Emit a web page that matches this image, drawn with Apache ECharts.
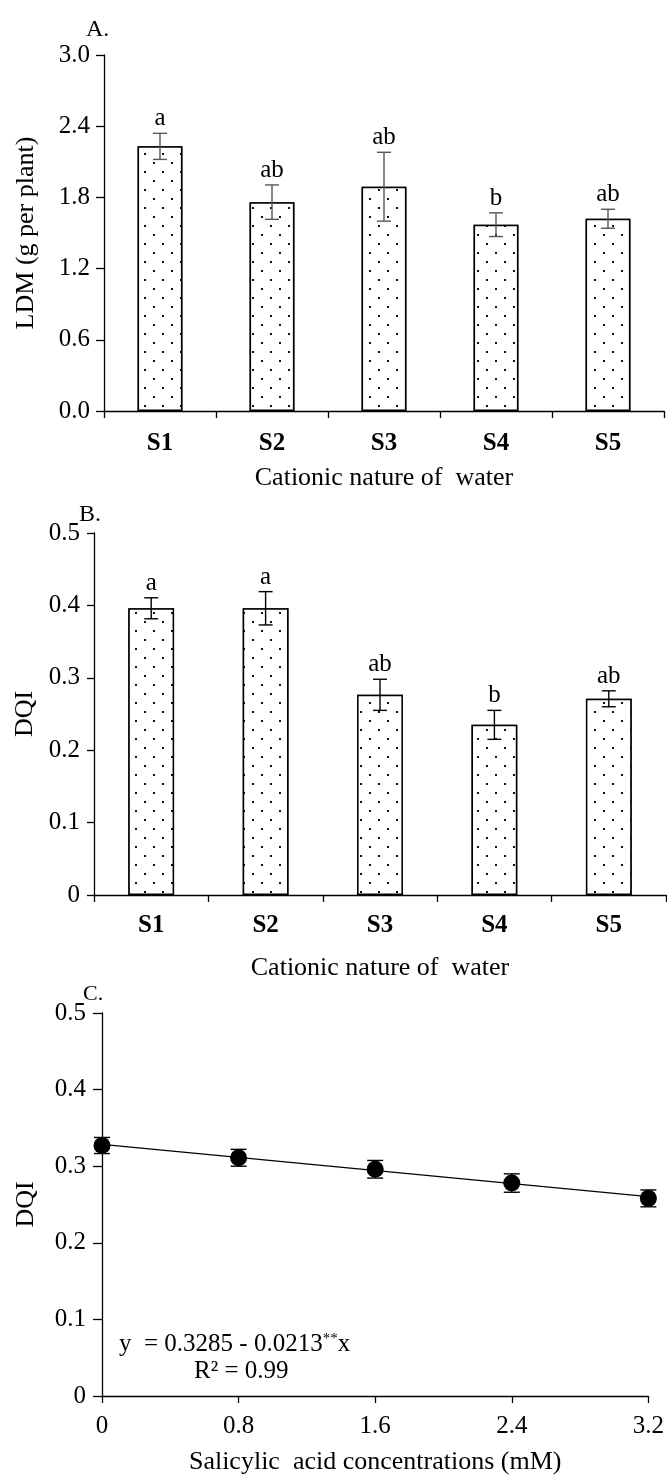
<!DOCTYPE html>
<html>
<head>
<meta charset="utf-8">
<script src="https://cdn.jsdelivr.net/npm/echarts@6/dist/echarts.min.js"></script>
<style>
html,body{margin:0;padding:0;background:#fff;}
#chart{width:667px;height:1477px;}
</style>
</head>
<body>
<div id="chart"></div>
<script>
// ---- data ----
const categories = ['S1', 'S2', 'S3', 'S4', 'S5'];
const ldmMean = [2.23, 1.76, 1.89, 1.57, 1.62];
const ldmErr = [0.11, 0.145, 0.29, 0.10, 0.08];
const ldmLetters = ['a', 'ab', 'ab', 'b', 'ab'];
const dqiMean = [0.396, 0.396, 0.2765, 0.235, 0.271];
const dqiErr = [0.0145, 0.023, 0.0215, 0.02, 0.011];
const dqiLetters = ['a', 'a', 'ab', 'b', 'ab'];
const saConc = [0, 0.8, 1.6, 2.4, 3.2];
const saDqi = [0.327, 0.311, 0.296, 0.278, 0.258];
const saErr = [0.0105, 0.011, 0.0115, 0.012, 0.011];
const fitX = [0, 3.2];
const fitY = [0.3285, 0.2603];
const xTitleAB = 'Cationic nature of  water';
const xTitleC = 'Salicylic  acid concentrations (mM)';
const yTitleA = 'LDM (g per plant)';
const yTitleBC = 'DQI';
const eqText = 'y  = 0.3285 - 0.0213';
const r2Text = 'R\u00B2 = 0.99';

const FONT = '"Liberation Serif", "Times New Roman", serif';
const FS = 25;

const decal = {
  symbol: 'rect', symbolSize: 1, symbolKeepAspect: false,
  color: '#111', backgroundColor: '#fff',
  dashArrayX: [[2, 15.5], [0, 8.75, 2, 6.75]],
  dashArrayY: [2, 7]
};

function errRenderer(letters, color, halfCap, withText) {
  return function (params, api) {
    const x = api.value(0), lo = api.value(1), hi = api.value(2);
    const pLo = api.coord([x, lo]);
    const pHi = api.coord([x, hi]);
    const st = { stroke: color, lineWidth: 1.4 };
    const children = [
      { type: 'line', shape: { x1: pHi[0], y1: pHi[1], x2: pLo[0], y2: pLo[1] }, style: st },
      { type: 'line', shape: { x1: pHi[0] - halfCap, y1: pHi[1], x2: pHi[0] + halfCap, y2: pHi[1] }, style: st },
      { type: 'line', shape: { x1: pLo[0] - halfCap, y1: pLo[1], x2: pLo[0] + halfCap, y2: pLo[1] }, style: st }
    ];
    if (withText) {
      children.push({
        type: 'text',
        style: {
          text: letters[params.dataIndex], x: pHi[0], y: pHi[1] - 2,
          align: 'center', verticalAlign: 'bottom',
          font: FS + 'px ' + FONT, fill: '#000'
        }
      });
    }
    return { type: 'group', children: children };
  };
}

const axisLineStyle = { show: true, lineStyle: { color: '#000', width: 1.3 } };
const axisTickStyle = { show: true, length: 8, lineStyle: { color: '#000', width: 1.3 } };
const labelStyle = { color: '#000', fontFamily: FONT, fontSize: FS };
const nameStyle = { color: '#000', fontFamily: FONT, fontSize: 26 };

const chart = echarts.init(document.getElementById('chart'), null, { renderer: 'canvas' });

const option = {
  backgroundColor: '#fff',
  animation: false,
  grid: [
    { left: 104, right: 3, top: 55, height: 356 },
    { left: 94, right: 1, top: 533, height: 362 },
    { left: 102, right: 17, top: 1013, height: 383 }
  ],
  xAxis: [
    {
      gridIndex: 0, type: 'category', data: categories, boundaryGap: true,
      axisLine: axisLineStyle, axisTick: Object.assign({}, axisTickStyle, { length: 7 }),
      axisLabel: Object.assign({}, labelStyle, { fontWeight: 'bold', margin: 20 }),
      name: xTitleAB, nameLocation: 'middle', nameGap: 54, nameTextStyle: nameStyle,
      splitLine: { show: false }
    },
    {
      gridIndex: 1, type: 'category', data: categories, boundaryGap: true,
      axisLine: axisLineStyle, axisTick: Object.assign({}, axisTickStyle, { length: 7 }),
      axisLabel: Object.assign({}, labelStyle, { fontWeight: 'bold', margin: 18 }),
      name: xTitleAB, nameLocation: 'middle', nameGap: 60, nameTextStyle: nameStyle,
      splitLine: { show: false }
    },
    {
      gridIndex: 2, type: 'value', min: 0, max: 3.2, interval: 0.8,
      axisLine: axisLineStyle, axisTick: Object.assign({}, axisTickStyle, { length: 7 }),
      axisLabel: Object.assign({}, labelStyle, { margin: 18 }),
      name: xTitleC, nameLocation: 'middle', nameGap: 53, nameTextStyle: nameStyle,
      splitLine: { show: false }
    }
  ],
  yAxis: [
    {
      gridIndex: 0, type: 'value', min: 0, max: 3.0, interval: 0.6,
      axisLine: axisLineStyle, axisTick: axisTickStyle,
      axisLabel: Object.assign({}, labelStyle, { margin: 14, formatter: v => v.toFixed(1) }),
      name: yTitleA, nameLocation: 'middle', nameGap: 65, nameRotate: 90, nameTextStyle: nameStyle,
      splitLine: { show: false }
    },
    {
      gridIndex: 1, type: 'value', min: 0, max: 0.5, interval: 0.1,
      axisLine: axisLineStyle, axisTick: Object.assign({}, axisTickStyle, { length: 7 }),
      axisLabel: Object.assign({}, labelStyle, { margin: 14 }),
      name: yTitleBC, nameLocation: 'middle', nameGap: 55, nameRotate: 90, nameTextStyle: nameStyle,
      splitLine: { show: false }
    },
    {
      gridIndex: 2, type: 'value', min: 0, max: 0.5, interval: 0.1,
      axisLine: axisLineStyle, axisTick: Object.assign({}, axisTickStyle, { length: 9 }),
      axisLabel: Object.assign({}, labelStyle, { margin: 16 }),
      name: yTitleBC, nameLocation: 'middle', nameGap: 63, nameRotate: 90, nameTextStyle: nameStyle,
      splitLine: { show: false }
    }
  ],
  series: [
    {
      type: 'bar', xAxisIndex: 0, yAxisIndex: 0, data: ldmMean, barWidth: '40%',
      itemStyle: { color: '#fff', borderColor: '#000', borderWidth: 1.5, decal: decal }
    },
    {
      type: 'custom', xAxisIndex: 0, yAxisIndex: 0, z: 5,
      renderItem: errRenderer(ldmLetters, '#555', 7, true),
      encode: { x: 0, y: [1, 2] },
      data: ldmMean.map((m, i) => [i, m - ldmErr[i], m + ldmErr[i]])
    },
    {
      type: 'bar', xAxisIndex: 1, yAxisIndex: 1, data: dqiMean, barWidth: '40%',
      itemStyle: { color: '#fff', borderColor: '#000', borderWidth: 1.5, decal: decal }
    },
    {
      type: 'custom', xAxisIndex: 1, yAxisIndex: 1, z: 5,
      renderItem: errRenderer(dqiLetters, '#000', 7, true),
      encode: { x: 0, y: [1, 2] },
      data: dqiMean.map((m, i) => [i, m - dqiErr[i], m + dqiErr[i]])
    },
    {
      type: 'line', xAxisIndex: 2, yAxisIndex: 2, symbol: 'none', z: 2,
      lineStyle: { color: '#000', width: 1.4 },
      data: fitX.map((x, i) => [x, fitY[i]])
    },
    {
      type: 'custom', xAxisIndex: 2, yAxisIndex: 2, z: 3,
      renderItem: errRenderer([], '#000', 8, false),
      encode: { x: 0, y: [1, 2] },
      data: saConc.map((x, i) => [x, saDqi[i] - saErr[i], saDqi[i] + saErr[i]])
    },
    {
      type: 'scatter', xAxisIndex: 2, yAxisIndex: 2, z: 4,
      symbol: 'circle', symbolSize: 17, itemStyle: { color: '#000', opacity: 1 },
      data: saConc.map((x, i) => [x, saDqi[i]])
    }
  ],
  graphic: [
    { type: 'text', left: 86, top: 18, style: { text: 'A.', font: '24px ' + FONT, fill: '#000' } },
    { type: 'text', left: 79, top: 503, style: { text: 'B.', font: '24px ' + FONT, fill: '#000' } },
    { type: 'text', left: 83, top: 983, style: { text: 'C.', font: '22px ' + FONT, fill: '#000' } },
    {
      type: 'text', left: 119, top: 1332,
      style: {
        text: eqText + '{sup|**}x',
        font: FS + 'px ' + FONT, fill: '#000',
        rich: { sup: { fontSize: 15, fontFamily: FONT, verticalAlign: 'top', padding: [0, 0, 10, 0] } }
      }
    },
    { type: 'text', left: 194, top: 1359, style: { text: r2Text, font: FS + 'px ' + FONT, fill: '#000' } }
  ]
};
chart.setOption(option);
</script>
</body>
</html>
